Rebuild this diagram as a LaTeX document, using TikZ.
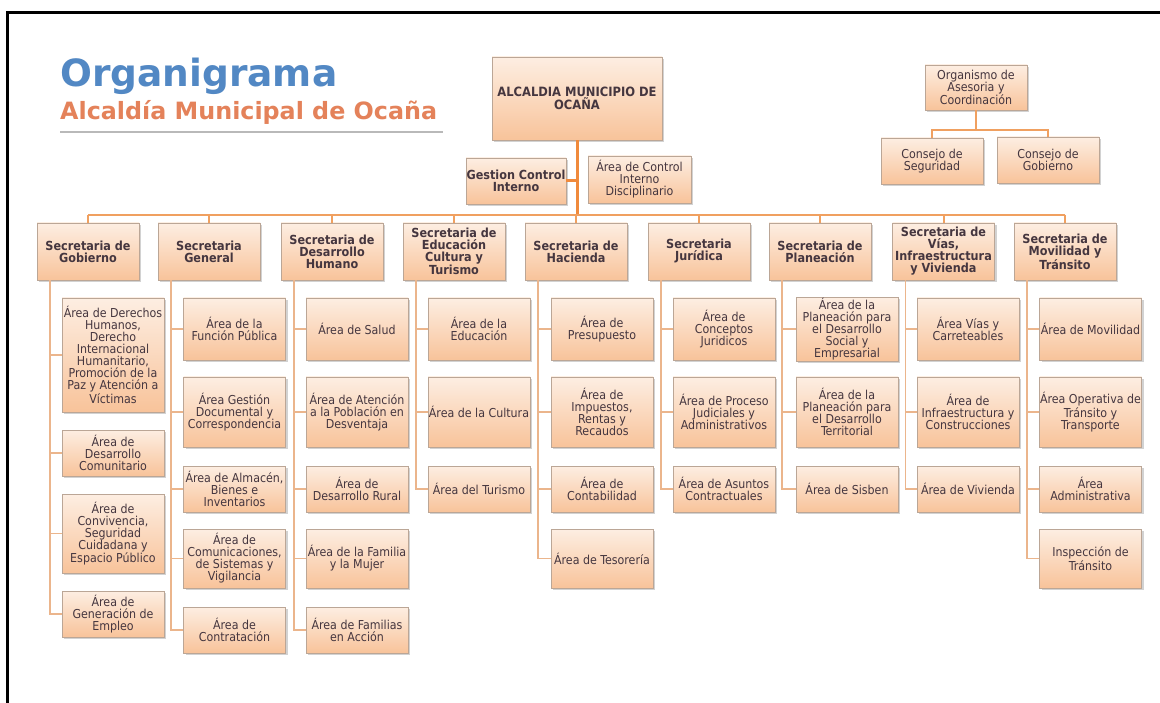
\documentclass[tikz,border=0pt]{standalone}
\usepackage{fontspec}
\setmainfont{DejaVu Sans Condensed}
\newfontfamily\titlefont{DejaVu Sans}
\usepackage{tikz}
\usetikzlibrary{shadows}
\definecolor{peachtop}{HTML}{FDEEE2}
\definecolor{peachbot}{HTML}{F8C39A}
\definecolor{boxline}{HTML}{BBA696}
\definecolor{boxtext}{HTML}{45363F}
\definecolor{linkcol}{HTML}{EBB58C}
\definecolor{buscol}{HTML}{F0A060}
\definecolor{trunkcol}{HTML}{F08A3C}
\definecolor{tituloazul}{HTML}{5288C4}
\definecolor{tituloocre}{HTML}{E4825A}
\tikzstyle{box} = [rectangle, draw=boxline, line width=0.8pt, top color=peachtop, bottom color=peachbot, text=boxtext, align=center, inner xsep=0.5pt, inner ysep=1pt, drop shadow={opacity=0.35, shadow xshift=2pt, shadow yshift=-2pt}]
\tikzstyle{secbox} = [box, minimum width=102pt, minimum height=57pt, font=\bfseries\fontsize{12.5}{12}\selectfont]
\tikzstyle{areabox} = [box, minimum width=102pt, font=\fontsize{12.3}{12}\selectfont]
\tikzstyle{link} = [draw=linkcol, line width=1.3pt]
\tikzstyle{bus} = [draw=buscol, line width=2pt]
\tikzstyle{trunk} = [draw=trunkcol, line width=3pt]

\begin{document}
\begin{tikzpicture}[x=1pt, y=-1pt]
    \useasboundingbox (0,0) rectangle (1160,703);
    \fill[white] (0,0) rectangle (1160,703);
    \draw[line width=3pt] (7.5,703) -- (7.5,13) -- (1160,13);

    % titulo
    \node (titulo) [anchor=base west, inner sep=0pt, text=tituloazul, font=\titlefont\bfseries\fontsize{37.5}{40}\selectfont] at (60,87) {Organigrama};
    \node (subtitulo) [anchor=base west, inner sep=0pt, text=tituloocre, font=\titlefont\bfseries\fontsize{23.8}{26}\selectfont] at (60,120) {Alcaldía Municipal de Ocaña};
    \draw[line width=2.5pt, gray!55] (60,132) -- (443,132);

    % cabeza
    \node (alcaldia) [box, minimum width=170pt, minimum height=83pt, font=\bfseries\fontsize{12.8}{12}\selectfont] at (577,98.5) {ALCALDIA MUNICIPIO DE\\OCAÑA};
    \node (gestion) [box, minimum width=100pt, minimum height=46pt, font=\bfseries\fontsize{12.5}{12}\selectfont] at (516,181) {Gestion Control\\Interno};
    \node (controlint) [areabox, minimum width=103pt, minimum height=47pt] at (639.5,179.5) {Área de Control\\Interno\\Disciplinario};
    \coordinate (bar) at (577,215);

    \node (organismo) [areabox, minimum height=45pt] at (976,87.5) {Organismo de\\Asesoria y\\Coordinación};
    \node (consseg) [areabox, minimum height=46pt] at (932,161) {Consejo de\\Seguridad};
    \node (consgob) [areabox, minimum height=46pt] at (1048,160) {Consejo de\\Gobierno};

    % secretarias
    \node (gobierno) [secbox] at (88,251.5) {Secretaria de\\Gobierno};
    \node (general) [secbox] at (209,251.5) {Secretaria\\General};
    \node (humano) [secbox] at (332,251.5) {Secretaria de\\Desarrollo\\Humano};
    \node (educacion) [secbox] at (454,251.5) {Secretaria de\\Educación\\Cultura y\\Turismo};
    \node (hacienda) [secbox] at (576,251.5) {Secretaria de\\Hacienda};
    \node (juridica) [secbox] at (699,251.5) {Secretaria\\Jurídica};
    \node (planeacion) [secbox] at (820,251.5) {Secretaria de\\Planeación};
    \node (vias) [secbox] at (943.5,251.5) {Secretaria de\\Vías,\\Infraestructura\\y Vivienda};
    \node (movilidad) [secbox] at (1065,251.5) {Secretaria de\\Movilidad y\\Tránsito};

    % areas
    \node (gob1) [areabox, minimum height=114pt] at (113,355) {Área de Derechos\\Humanos,\\Derecho\\Internacional\\Humanitario,\\Promoción de la\\Paz y Atención a\\Víctimas};
    \node (gob2) [areabox, minimum height=46pt] at (113,453) {Área de\\Desarrollo\\Comunitario};
    \node (gob3) [areabox, minimum height=79pt] at (113,533.5) {Área de\\Convivencia,\\Seguridad\\Cuidadana y\\Espacio Público};
    \node (gob4) [areabox, minimum height=46pt] at (113,614) {Área de\\Generación de\\Empleo};

    \node (gen1) [areabox, minimum height=62pt] at (234.5,329) {Área de la\\Función Pública};
    \node (gen2) [areabox, minimum height=70pt] at (234.5,412) {Área Gestión\\Documental y\\Correspondencia};
    \node (gen3) [areabox, minimum height=46pt] at (234.5,489) {Área de Almacén,\\Bienes e\\Inventarios};
    \node (gen4) [areabox, minimum height=59pt] at (234.5,558.5) {Área de\\Comunicaciones,\\de Sistemas y\\Vigilancia};
    \node (gen5) [areabox, minimum height=46pt] at (234.5,630) {Área de\\Contratación};

    \node (hum1) [areabox, minimum height=62pt] at (357,329) {Área de Salud};
    \node (hum2) [areabox, minimum height=70pt] at (357,412) {Área de Atención\\a la Población en\\Desventaja};
    \node (hum3) [areabox, minimum height=46pt] at (357,489) {Área de\\Desarrollo Rural};
    \node (hum4) [areabox, minimum height=59pt] at (357,558.5) {Área de la Familia\\y la Mujer};
    \node (hum5) [areabox, minimum height=46pt] at (357,630) {Área de Familias\\en Acción};

    \node (edu1) [areabox, minimum height=62pt] at (479,329) {Área de la\\Educación};
    \node (edu2) [areabox, minimum height=70pt] at (479,412) {Área de la Cultura};
    \node (edu3) [areabox, minimum height=46pt] at (479,489) {Área del Turismo};

    \node (hac1) [areabox, minimum height=62pt] at (602,329) {Área de\\Presupuesto};
    \node (hac2) [areabox, minimum height=70pt] at (602,412) {Área de\\Impuestos,\\Rentas y\\Recaudos};
    \node (hac3) [areabox, minimum height=46pt] at (602,489) {Área de\\Contabilidad};
    \node (hac4) [areabox, minimum height=59pt] at (602,558.5) {Área de Tesorería};

    \node (jur1) [areabox, minimum height=62pt] at (724,329) {Área de\\Conceptos\\Juridicos};
    \node (jur2) [areabox, minimum height=70pt] at (724,412) {Área de Proceso\\Judiciales y\\Administrativos};
    \node (jur3) [areabox, minimum height=46pt] at (724,489) {Área de Asuntos\\Contractuales};

    \node (pla1) [areabox, minimum height=62pt] at (847,329) {Área de la\\Planeación para\\el Desarrollo\\Social y\\Empresarial};
    \node (pla2) [areabox, minimum height=70pt] at (847,412) {Área de la\\Planeación para\\el Desarrollo\\Territorial};
    \node (pla3) [areabox, minimum height=46pt] at (847,489) {Área de Sisben};

    \node (via1) [areabox, minimum height=62pt] at (968,329) {Área Vías y\\Carreteables};
    \node (via2) [areabox, minimum height=70pt] at (968,412) {Área de\\Infraestructura y\\Construcciones};
    \node (via3) [areabox, minimum height=46pt] at (968,489) {Área de Vivienda};

    \node (mov1) [areabox, minimum height=62pt] at (1090.5,329) {Área de Movilidad};
    \node (mov2) [areabox, minimum height=70pt] at (1090.5,412) {Área Operativa de\\Tránsito y\\Transporte};
    \node (mov3) [areabox, minimum height=46pt] at (1090.5,489) {Área\\Administrativa};
    \node (mov4) [areabox, minimum height=59pt] at (1090.5,558.5) {Inspección de\\Tránsito};

    % conectores
    \draw [trunk] (alcaldia.south) -- (bar);
    \draw [trunk] (gestion.east) -- (gestion.east -| bar);
    \draw [bus] (gobierno.north |- bar) -- (movilidad.north |- bar);
    \draw [bus] (gobierno.north |- bar) -- (gobierno.north);
    \draw [bus] (general.north |- bar) -- (general.north);
    \draw [bus] (humano.north |- bar) -- (humano.north);
    \draw [bus] (educacion.north |- bar) -- (educacion.north);
    \draw [bus] (hacienda.north |- bar) -- (hacienda.north);
    \draw [bus] (juridica.north |- bar) -- (juridica.north);
    \draw [bus] (planeacion.north |- bar) -- (planeacion.north);
    \draw [bus] (vias.north |- bar) -- (vias.north);
    \draw [bus] (movilidad.north |- bar) -- (movilidad.north);

    \draw [bus] (organismo.south) -- ++(0,20) -| (consseg.north);
    \draw [bus] (organismo.south) -- ++(0,20) -| (consgob.north);

    \draw [link] ([xshift=-38pt]gobierno.south) |- (gob1.west);
    \draw [link] ([xshift=-38pt]gobierno.south) |- (gob2.west);
    \draw [link] ([xshift=-38pt]gobierno.south) |- (gob3.west);
    \draw [link] ([xshift=-38pt]gobierno.south) |- (gob4.west);
    \draw [link] ([xshift=-38pt]general.south) |- (gen1.west);
    \draw [link] ([xshift=-38pt]general.south) |- (gen2.west);
    \draw [link] ([xshift=-38pt]general.south) |- (gen3.west);
    \draw [link] ([xshift=-38pt]general.south) |- (gen4.west);
    \draw [link] ([xshift=-38pt]general.south) |- (gen5.west);
    \draw [link] ([xshift=-38pt]humano.south) |- (hum1.west);
    \draw [link] ([xshift=-38pt]humano.south) |- (hum2.west);
    \draw [link] ([xshift=-38pt]humano.south) |- (hum3.west);
    \draw [link] ([xshift=-38pt]humano.south) |- (hum4.west);
    \draw [link] ([xshift=-38pt]humano.south) |- (hum5.west);
    \draw [link] ([xshift=-38pt]educacion.south) |- (edu1.west);
    \draw [link] ([xshift=-38pt]educacion.south) |- (edu2.west);
    \draw [link] ([xshift=-38pt]educacion.south) |- (edu3.west);
    \draw [link] ([xshift=-38pt]hacienda.south) |- (hac1.west);
    \draw [link] ([xshift=-38pt]hacienda.south) |- (hac2.west);
    \draw [link] ([xshift=-38pt]hacienda.south) |- (hac3.west);
    \draw [link] ([xshift=-38pt]hacienda.south) |- (hac4.west);
    \draw [link] ([xshift=-38pt]juridica.south) |- (jur1.west);
    \draw [link] ([xshift=-38pt]juridica.south) |- (jur2.west);
    \draw [link] ([xshift=-38pt]juridica.south) |- (jur3.west);
    \draw [link] ([xshift=-38pt]planeacion.south) |- (pla1.west);
    \draw [link] ([xshift=-38pt]planeacion.south) |- (pla2.west);
    \draw [link] ([xshift=-38pt]planeacion.south) |- (pla3.west);
    \draw [link] ([xshift=-38pt]vias.south) |- (via1.west);
    \draw [link] ([xshift=-38pt]vias.south) |- (via2.west);
    \draw [link] ([xshift=-38pt]vias.south) |- (via3.west);
    \draw [link] ([xshift=-38pt]movilidad.south) |- (mov1.west);
    \draw [link] ([xshift=-38pt]movilidad.south) |- (mov2.west);
    \draw [link] ([xshift=-38pt]movilidad.south) |- (mov3.west);
    \draw [link] ([xshift=-38pt]movilidad.south) |- (mov4.west);

\end{tikzpicture}
\end{document}
